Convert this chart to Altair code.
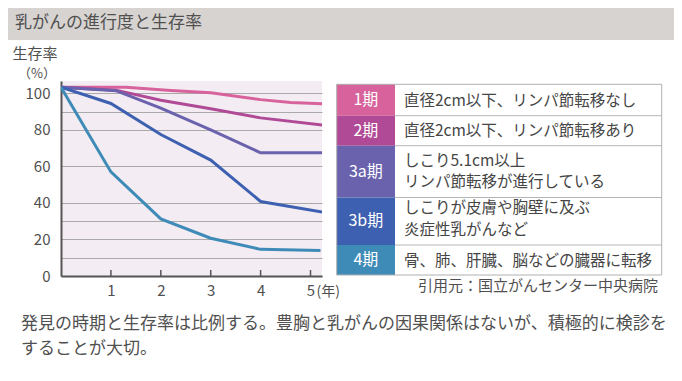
import altair as alt
import pandas as pd

FONT = "Noto Sans CJK JP"
TXT = "#505050"

# ---------------- data ----------------
stages = ["1期", "2期", "3a期", "3b期", "4期"]
stage_colors = ["#d8639c", "#b04a96", "#6a62ad", "#3e60b0", "#3f8bb8"]

stage1_years = [0, 1.3, 2.2, 3.0, 4.0, 4.6, 5.25]
stage1_rates = [103.4, 103.4, 101.6, 100.3, 96.6, 95.0, 94.3]
stage2_years = [0, 1.1, 2.0, 3.0, 4.0, 5.25]
stage2_rates = [103.4, 101.8, 96.3, 91.6, 86.6, 82.7]
stage3a_years = [0, 1.1, 2.0, 3.0, 4.0, 5.25]
stage3a_rates = [103.4, 101.5, 92.0, 80.0, 67.5, 67.5]
stage3b_years = [0, 1.0, 2.0, 3.0, 4.0, 5.25]
stage3b_rates = [103.4, 94.5, 77.5, 63.5, 40.8, 35.0]
stage4_years = [0, 1.0, 2.0, 3.0, 4.0, 5.2]
stage4_rates = [103.4, 57.0, 31.3, 20.7, 14.6, 13.9]

x_ticks = [1, 2, 3, 4, 5]
y_labels = [0, 20, 40, 60, 80, 100]
y_grid = [0, 10, 20, 30, 40, 60, 80, 90, 100]

descriptions = [
    ["直径2cm以下、リンパ節転移なし"],
    ["直径2cm以下、リンパ節転移あり"],
    ["しこり5.1cm以上", "リンパ節転移が進行している"],
    ["しこりが皮膚や胸壁に及ぶ", "炎症性乳がんなど"],
    ["骨、肺、肝臓、脳などの臓器に転移"],
]

title_text = "乳がんの進行度と生存率"
y_title = "生存率"
y_unit = "（%）"
x_unit = "(年)"
source_text = "引用元：国立がんセンター中央病院"
footer_lines = ["発見の時期と生存率は比例する。豊胸と乳がんの因果関係はないが、積極的に検診を",
                "することが大切。"]

series = [(stages[0], stage1_years, stage1_rates), (stages[1], stage2_years, stage2_rates),
          (stages[2], stage3a_years, stage3a_rates), (stages[3], stage3b_years, stage3b_rates),
          (stages[4], stage4_years, stage4_rates)]
rows = []
for s, ys, rs in series:
    for yv, rv in zip(ys, rs):
        rows.append({"stage": s, "year": yv, "rate": rv})
df = pd.DataFrame(rows)

# ---------------- layout ----------------
W, H = 261, 195
XMAX, YMAX = 5.23, 106.8
one = alt.Data(values=[{"a": 1}])


def txt(t, x, y, size, color=TXT, align="left", baseline="middle", lh=None):
    kw = dict(align=align, baseline=baseline, fontSize=size, color=color, font=FONT)
    if lh:
        kw["lineHeight"] = lh
    return alt.Chart(one).mark_text(**kw).encode(
        x=alt.value(x), y=alt.value(y), text=alt.value(t))


layers = []
# title band
layers.append(alt.Chart(one).mark_rect(color="#d7d3d0").encode(
    x=alt.value(-53), x2=alt.value(613), y=alt.value(-73), y2=alt.value(-41)))
layers.append(txt(title_text, -46, -58, 17))
layers.append(txt(y_title, -26, -27, 15, align="center"))
layers.append(txt(y_unit, -24, -7, 13, align="center"))

color_scale = alt.Scale(domain=stages, range=stage_colors)

lines = alt.Chart(df).mark_line(strokeWidth=3, clip=True).encode(
    x=alt.X("year:Q", scale=alt.Scale(domain=[0, XMAX], nice=False, zero=False),
            axis=alt.Axis(values=x_ticks, format="d", title=None, grid=False, ticks=False,
                          domainColor="#555", domainWidth=2, labelColor=TXT, labelFont=FONT,
                          labelFontSize=15, labelPadding=7)),
    y=alt.Y("rate:Q", scale=alt.Scale(domain=[0, YMAX], nice=False),
            axis=alt.Axis(values=y_grid, title=None, grid=True, gridColor="#aaaaaa", gridWidth=1,
                          ticks=False, domainColor="#555", domainWidth=2, labelColor=TXT,
                          labelFont=FONT, labelFontSize=15, labelPadding=11, labelOverlap=False,
                          labelExpr="datum.value % 20 === 0 ? datum.label : ''")),
    color=alt.Color("stage:N", scale=color_scale, legend=None),
    detail="stage:N",
    order=alt.Order("year:Q"),
)
layers.append(lines)

tick_df = pd.DataFrame({"year": x_ticks})
layers.append(alt.Chart(tick_df).mark_rule(color="#555", strokeWidth=1.5).encode(
    x="year:Q", y=alt.value(H - 6), y2=alt.value(H)))
layers.append(alt.Chart(one).mark_text(align="left", baseline="middle", fontSize=14, font=FONT,
                                       color=TXT, dx=6).encode(
    x=alt.datum(5), y=alt.value(210.5), text=alt.value(x_unit)))

# legend table
tbl_left, tbl_badge, tbl_right = 275.7, 334, 600.7
row_heights = [31.4, 30, 51.8, 47.5, 30]
first_line_y = [19.5, 50, 79.5, 127, 179.5]
line_h = 21.5
top = 3.3
tops = []
for h in row_heights:
    tops.append(top)
    top += h
tbl_bottom = top
for i, s in enumerate(stages):
    t0, t1 = tops[i], tops[i] + row_heights[i]
    layers.append(alt.Chart(one).mark_rect(color=stage_colors[i]).encode(
        x=alt.value(tbl_left), x2=alt.value(tbl_badge), y=alt.value(t0), y2=alt.value(t1)))
    layers.append(txt(s, (tbl_left + tbl_badge) / 2, (t0 + t1) / 2, 16, color="white",
                      align="center"))
    d = descriptions[i]
    layers.append(txt(d if len(d) > 1 else d[0], 343, first_line_y[i], 15.5, color="#454545",
                      lh=line_h))
    if i > 0:
        layers.append(alt.Chart(one).mark_rule(color="#b5b5b5", strokeWidth=1).encode(
            x=alt.value(tbl_badge), x2=alt.value(tbl_right), y=alt.value(t0)))
layers.append(alt.Chart(one).mark_rect(fill=None, stroke="#b0b0b0", strokeWidth=1).encode(
    x=alt.value(tbl_left), x2=alt.value(tbl_right), y=alt.value(3.3), y2=alt.value(tbl_bottom)))

layers.append(txt(source_text, 597, 205, 15, align="right"))
layers.append(txt(footer_lines[0], -40, 243, 17))
layers.append(txt(footer_lines[1], -40, 268, 17))

chart = alt.layer(*layers).properties(
    width=W, height=H,
    autosize=alt.AutoSizeParams(type="none"),
    padding={"left": 53, "top": 73, "right": 352, "bottom": 97},
    background="white",
).configure_view(stroke=None, fill="#f3ecf3")

chart.save("out.html", embed_options={"renderer": "svg", "actions": False})
